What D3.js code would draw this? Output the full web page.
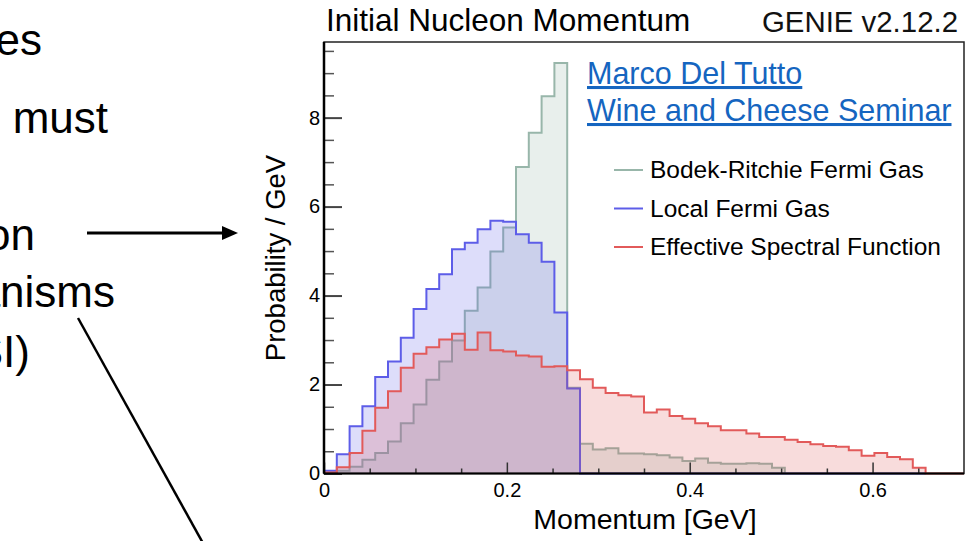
<!DOCTYPE html>
<html>
<head>
<meta charset="utf-8">
<script src="https://cdn.jsdelivr.net/npm/d3@7/dist/d3.min.js"></script>
<style>
  html, body { margin: 0; padding: 0; background: #fff; }
  svg { display: block; font-family: "Liberation Sans", Arial, Helvetica, sans-serif; }
</style>
</head>
<body>
<svg id="chart" width="967" height="541"></svg>
<script>
// Histogram binning: 50 bins of 0.014 GeV over [0, 0.7]
const binWidth = 0.014;

// Initial nucleon momentum distributions (Probability / GeV per bin)
const bodekRitchie = [0.02, 0.06, 0.15, 0.31, 0.46, 0.72, 1.13, 1.55, 2.11, 2.52,
  2.99, 3.66, 4.18, 4.99, 5.53, 6.89, 7.66, 8.48, 9.23, 1.93,
  0.67, 0.54, 0.57, 0.45, 0.45, 0.43, 0.41, 0.36, 0.28, 0.34,
  0.24, 0.22, 0.22, 0.23, 0.22, 0.13];
const localFermiGas = [0.06, 0.43, 1.06, 1.51, 2.17, 2.52, 3.05, 3.70, 4.15, 4.48,
  5.04, 5.19, 5.49, 5.68, 5.66, 5.38, 5.19, 4.76, 3.62, 1.91,
  0, 0, 0, 0, 0, 0, 0, 0, 0, 0, 0, 0, 0, 0, 0, 0, 0, 0, 0, 0,
  0, 0, 0, 0, 0, 0, 0];
const effSpectral = [0.02, 0.14, 0.46, 0.96, 1.48, 1.85, 2.38, 2.69, 2.84, 3.01,
  3.14, 2.78, 3.17, 2.77, 2.74, 2.65, 2.63, 2.40, 2.41, 2.32,
  2.12, 1.93, 1.81, 1.76, 1.73, 1.37, 1.44, 1.29, 1.23, 1.13,
  1.06, 0.97, 0.97, 0.90, 0.82, 0.82, 0.76, 0.71, 0.66, 0.62,
  0.60, 0.52, 0.40, 0.46, 0.37, 0.32, 0.13, 0, 0, 0];

const seriesNames = ["Bodek-Ritchie Fermi Gas", "Local Fermi Gas", "Effective Spectral Function"];
const yTicks = [0, 2, 4, 6, 8];
const xTicks = [0, 0.2, 0.4, 0.6];
const xTickLabels = ["0", "0.2", "0.4", "0.6"];

const titleText = "Initial Nucleon Momentum";
const versionText = "GENIE v2.12.2";
const creditLines = ["Marco Del Tutto", "Wine and Cheese Seminar"];
const slideFragments = ["es", "must", "on", "anisms", "SI)"];

const svg = d3.select("#chart");

// Plot frame
const frame = { left: 324, right: 964, top: 42, bottom: 473.5 };
const x = d3.scaleLinear().domain([0, 0.7]).range([frame.left, frame.right]);
const y = d3.scaleLinear().domain([0, 9.7]).range([frame.bottom, frame.top]);

// Slide text to the left of the figure
const fragY = [55, 133, 250, 307, 367];
const fragX = [42, 108, 35, 115, 30];
svg.append("g").selectAll("text").data(slideFragments).join("text")
  .attr("x", (d, i) => fragX[i]).attr("y", (d, i) => fragY[i])
  .attr("text-anchor", "end").attr("font-size", 44).attr("fill", "#000")
  .text(d => d);

// Pointer arrow and leader line
svg.append("line").attr("x1", 87).attr("y1", 233).attr("x2", 225).attr("y2", 233)
  .attr("stroke", "#000").attr("stroke-width", 3);
svg.append("path").attr("d", "M222,226 L238,233 L222,240 Z").attr("fill", "#000");
svg.append("line").attr("x1", 78).attr("y1", 318).attr("x2", 204).attr("y2", 545)
  .attr("stroke", "#000").attr("stroke-width", 2.5);

// Histogram outlines as step paths
function stepPoints(vals) {
  const pts = [[0, 0]];
  vals.forEach((v, i) => {
    pts.push([i * binWidth, v]);
    pts.push([(i + 1) * binWidth, v]);
  });
  pts.push([vals.length * binWidth, 0]);
  return pts;
}
const line = d3.line().x(d => x(d[0])).y(d => y(d[1]));
const area = d3.area().x(d => x(d[0])).y0(y(0)).y1(d => y(d[1]));

const styles = [
  { data: bodekRitchie, stroke: "#98b6aa", fill: "rgba(150,182,170,0.22)" },
  { data: localFermiGas, stroke: "#5d5de8", fill: "rgba(100,100,232,0.22)" },
  { data: effSpectral, stroke: "#e25a5a", fill: "rgba(222,80,80,0.20)" }
];
const hist = svg.append("g");
styles.forEach(s => {
  const pts = stepPoints(s.data);
  hist.append("path").attr("d", area(pts)).attr("fill", s.fill);
  hist.append("path").attr("d", line(pts)).attr("fill", "none")
    .attr("stroke", s.stroke).attr("stroke-width", 2).attr("stroke-linejoin", "miter");
});

// Axes (ROOT style: ticks pointing inward)
const yMinor = d3.range(0, 9.7, 0.5).filter(v => v % 2 !== 0);
svg.append("g").attr("transform", `translate(${frame.left},0)`)
  .call(d3.axisLeft(y).tickValues(yMinor).tickSize(-10).tickFormat(""))
  .call(g => g.select(".domain").remove())
  .call(g => g.selectAll("line").attr("stroke", "#555").attr("stroke-width", 1.5));
svg.append("g").attr("transform", `translate(${frame.left},0)`)
  .call(d3.axisLeft(y).tickValues(yTicks).tickSize(-18).tickPadding(4).tickFormat(d3.format("d")))
  .call(g => g.select(".domain").remove())
  .call(g => g.selectAll("line").attr("stroke", "#444").attr("stroke-width", 2))
  .call(g => g.selectAll("text").attr("font-size", 20).attr("fill", "#000")
    .attr("font-family", "Liberation Sans, Arial, sans-serif"));

const xMinor = d3.range(0.05, 0.7, 0.05).filter(v => Math.abs(v / 0.2 - Math.round(v / 0.2)) > 1e-6);
svg.append("g").attr("transform", `translate(0,${frame.bottom})`)
  .call(d3.axisBottom(x).tickValues(xMinor).tickSize(-5).tickFormat(""))
  .call(g => g.select(".domain").remove())
  .call(g => g.selectAll("line").attr("stroke", "#333").attr("stroke-width", 1.5));
svg.append("g").attr("transform", `translate(0,${frame.bottom})`)
  .call(d3.axisBottom(x).tickValues(xTicks).tickSize(-11).tickPadding(9)
    .tickFormat((d, i) => xTickLabels[i]))
  .call(g => g.select(".domain").remove())
  .call(g => g.selectAll("line").attr("stroke", "#333").attr("stroke-width", 1.5))
  .call(g => g.selectAll("text").attr("font-size", 20).attr("fill", "#000")
    .attr("font-family", "Liberation Sans, Arial, sans-serif"));

// Frame
svg.append("rect").attr("x", frame.left).attr("y", frame.top)
  .attr("width", frame.right - frame.left).attr("height", frame.bottom - frame.top)
  .attr("fill", "none").attr("stroke", "#222").attr("stroke-width", 1.5);
svg.append("line").attr("x1", frame.left).attr("x2", frame.left)
  .attr("y1", frame.top).attr("y2", frame.bottom).attr("stroke", "#000").attr("stroke-width", 2.5);
svg.append("line").attr("x1", frame.left).attr("x2", frame.right)
  .attr("y1", frame.bottom).attr("y2", frame.bottom).attr("stroke", "#000").attr("stroke-width", 2);

// Axis titles
svg.append("text").attr("transform", `translate(285,258) rotate(-90)`)
  .attr("text-anchor", "middle").attr("font-size", 27.5).attr("fill", "#000")
  .text("Probability / GeV");
svg.append("text").attr("x", 645).attr("y", 529).attr("text-anchor", "middle")
  .attr("font-size", 28.5).attr("fill", "#000").text("Momentum [GeV]");

// Title and generator version
svg.append("text").attr("x", 326).attr("y", 31).attr("font-size", 31.5)
  .attr("fill", "#000").text(titleText);
svg.append("text").attr("x", 958).attr("y", 32).attr("text-anchor", "end")
  .attr("font-size", 29.4).attr("fill", "#111").text(versionText);

// Credit links
svg.append("g").selectAll("text").data(creditLines).join("text")
  .attr("x", 587).attr("y", (d, i) => 84 + i * 37)
  .attr("font-size", 30.5).attr("fill", "#1565c0")
  .attr("text-decoration", "underline")
  .text(d => d);

// Legend
const leg = svg.append("g");
seriesNames.forEach((name, i) => {
  const ly = 170 + i * 38.5;
  leg.append("line").attr("x1", 614).attr("x2", 643).attr("y1", ly).attr("y2", ly)
    .attr("stroke", styles[i].stroke).attr("stroke-width", 2);
  leg.append("text").attr("x", 650).attr("y", ly + 8).attr("font-size", 24.5)
    .attr("fill", "#000").text(name);
});
</script>
</body>
</html>
